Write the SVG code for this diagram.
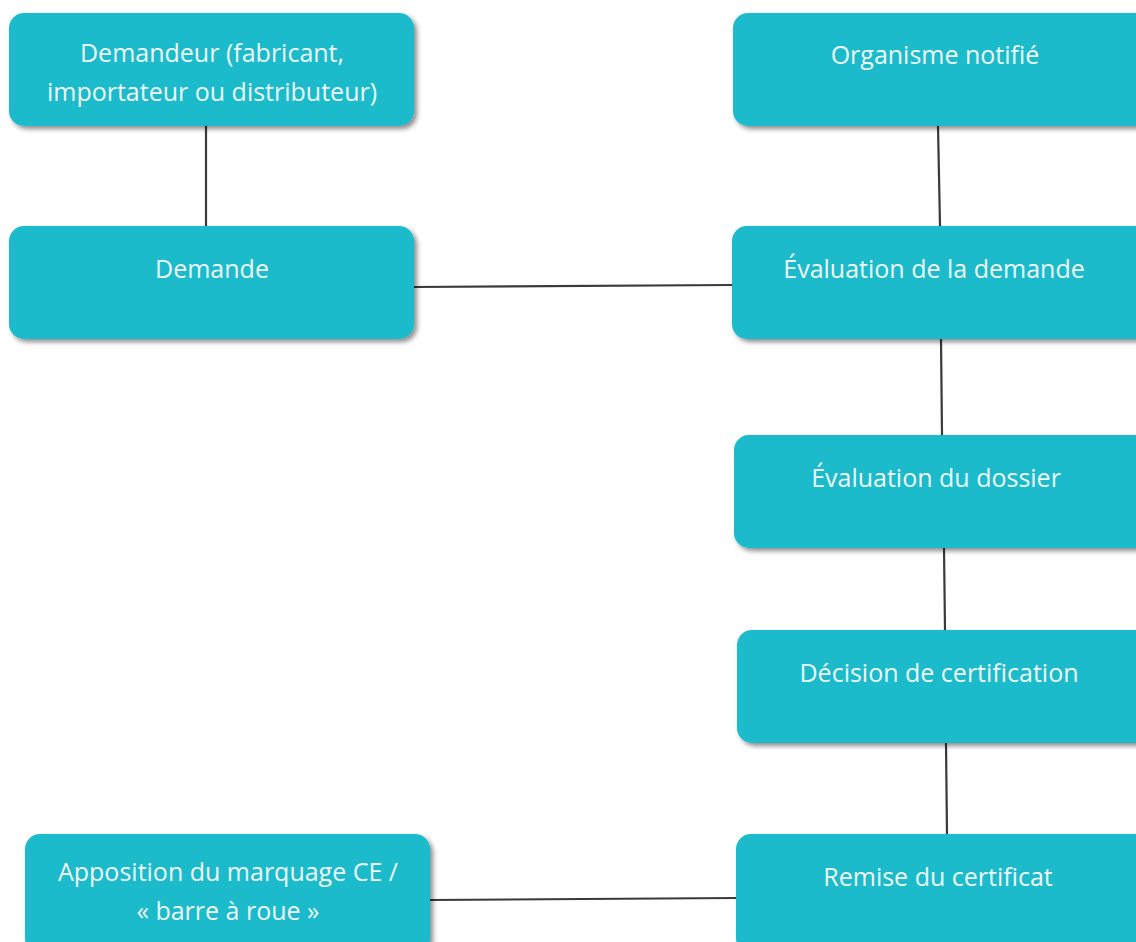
<svg xmlns="http://www.w3.org/2000/svg" width="1136" height="942" viewBox="0 0 1136 942">
<defs>
<filter id="sh" x="-10%" y="-20%" width="120%" height="140%">
<feDropShadow dx="3" dy="3" stdDeviation="2.5" flood-color="#000" flood-opacity="0.45"/>
</filter>
<style>
.box{fill:#1CBBCB;filter:url(#sh);}
.t{font-family:"Open Sans","Noto Sans",sans-serif;font-size:25px;fill:#EEF6F7;text-anchor:middle;}
.c{stroke:#3a3a3a;stroke-width:2.2;fill:none;}
</style>
</defs>
<rect width="1136" height="942" fill="#fff"/>
<g id="connectors">
<line class="c" x1="206" y1="126" x2="206" y2="226"/>
<line class="c" x1="938" y1="126" x2="940" y2="226"/>
<line class="c" x1="414" y1="287" x2="732" y2="285"/>
<line class="c" x1="941" y1="339" x2="942" y2="435"/>
<line class="c" x1="944" y1="548" x2="945" y2="630"/>
<line class="c" x1="946" y1="743" x2="947" y2="834"/>
<line class="c" x1="430" y1="900" x2="736" y2="898"/>
</g>
<g id="n1"><rect class="box" x="9" y="13" width="405" height="113" rx="15"/>
<text class="t" x="212" y="62">Demandeur (fabricant,</text><text class="t" x="212" y="101">importateur ou distributeur)</text></g>
<g id="n2"><rect class="box" x="733" y="13" width="420" height="113" rx="15"/>
<text class="t" x="935" y="64">Organisme notifié</text></g>
<g id="n3"><rect class="box" x="9" y="226" width="405" height="113" rx="15"/>
<text class="t" x="212" y="278">Demande</text></g>
<g id="n4"><rect class="box" x="732" y="226" width="420" height="113" rx="15"/>
<text class="t" x="934" y="278">Évaluation de la demande</text></g>
<g id="n5"><rect class="box" x="734" y="435" width="420" height="113" rx="15"/>
<text class="t" x="936" y="487">Évaluation du dossier</text></g>
<g id="n6"><rect class="box" x="737" y="630" width="420" height="113" rx="15"/>
<text class="t" x="939" y="682">Décision de certification</text></g>
<g id="n7"><rect class="box" x="736" y="834" width="420" height="120" rx="15"/>
<text class="t" x="938" y="886">Remise du certificat</text></g>
<g id="n8"><rect class="box" x="25" y="834" width="405" height="120" rx="15"/>
<text class="t" x="228" y="881">Apposition du marquage CE /</text><text class="t" x="228" y="920">« barre à roue »</text></g>
</svg>
